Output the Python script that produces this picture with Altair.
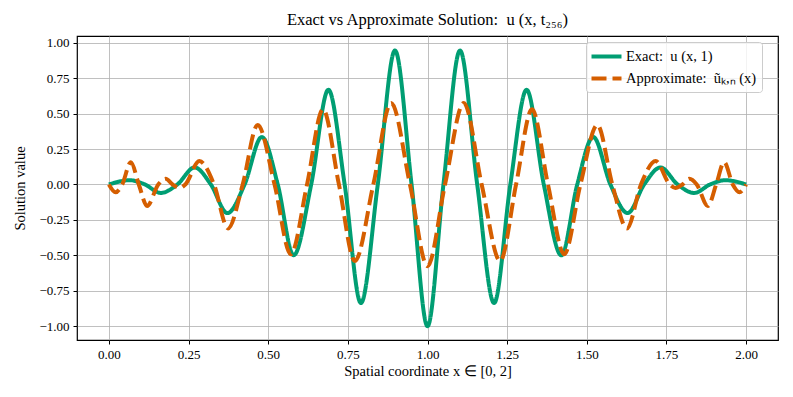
import altair as alt
import pandas as pd

# ---- data ----
exact_x = [0.000, 0.066, 0.113, 0.163, 0.215, 0.269, 0.320, 0.372, 0.426, 0.480,
           0.530, 0.580, 0.635, 0.689, 0.740, 0.791, 0.844, 0.898, 0.950, 1.000,
           1.050, 1.102, 1.156, 1.209, 1.260, 1.311, 1.365, 1.420, 1.470, 1.520,
           1.574, 1.628, 1.680, 1.731, 1.785, 1.837, 1.887, 1.934, 2.000]
exact_y = [0.000, 0.030, 0.000, -0.060, 0.000, 0.120, 0.000, -0.202, 0.000, 0.335,
           0.000, -0.500, 0.000, 0.668, 0.000, -0.837, 0.000, 0.945, 0.000, -1.000,
           0.000, 0.945, 0.000, -0.837, 0.000, 0.668, 0.000, -0.500, 0.000, 0.335,
           0.000, -0.202, 0.000, 0.120, 0.000, -0.060, 0.000, 0.030, 0.000]

approx_x = [0.000, 0.021, 0.042, 0.069, 0.094, 0.120, 0.155, 0.178, 0.200, 0.222,
            0.240, 0.284, 0.330, 0.374, 0.420, 0.467, 0.520, 0.571, 0.622, 0.672,
            0.722, 0.772, 0.830, 0.886, 0.945, 1.000, 1.055, 1.114, 1.170, 1.228,
            1.278, 1.328, 1.378, 1.429, 1.480, 1.533, 1.580, 1.626, 1.670, 1.716,
            1.760, 1.778, 1.800, 1.822, 1.845, 1.880, 1.906, 1.931, 1.958, 1.979,
            2.000]
approx_y = [0.000, -0.055, 0.000, 0.157, 0.000, -0.152, 0.000, 0.040, 0.000, -0.025,
            0.000, 0.165, 0.000, -0.310, 0.000, 0.420, 0.000, -0.492, 0.000, 0.530,
            0.000, -0.540, 0.000, 0.575, 0.000, -0.577, 0.000, 0.575, 0.000, -0.540,
            0.000, 0.530, 0.000, -0.492, 0.000, 0.420, 0.000, -0.310, 0.000, 0.165,
            0.000, -0.025, 0.000, 0.040, 0.000, -0.152, 0.000, 0.157, 0.000, -0.055,
            0.000]

series_names = ["Exact:\u2002u (x, 1)", "Approximate:\u2002ũₖ,ₙ (x)"]
series_colors = ["#009E73", "#D55E00"]
x_ticks = [0.0, 0.25, 0.5, 0.75, 1.0, 1.25, 1.5, 1.75, 2.0]
y_ticks = [-1.0, -0.75, -0.5, -0.25, 0.0, 0.25, 0.5, 0.75, 1.0]

df_exact = pd.DataFrame({"x": exact_x, "y": exact_y, "series": series_names[0]})
df_approx = pd.DataFrame({"x": approx_x, "y": approx_y, "series": series_names[1]})

FONT = "Liberation Serif"

xenc = alt.X("x:Q",
             scale=alt.Scale(domain=[-0.1, 2.1], nice=False, zero=False),
             axis=alt.Axis(values=x_ticks, format=".2f",
                           title="Spatial coordinate x ∈ [0, 2]"))
yenc = alt.Y("y:Q",
             scale=alt.Scale(domain=[-1.0975, 1.0475], nice=False, zero=False),
             axis=alt.Axis(values=y_ticks, format=".2f", title="Solution value"))
color = alt.Color("series:N",
                  scale=alt.Scale(domain=series_names, range=series_colors),
                  sort=series_names,
                  legend=alt.Legend(title=None, orient="none", legendX=509, legendY=6,
                                    symbolType="M-1.2,0L2.8,0", symbolSize=225,
                                    symbolStrokeWidth=4,
                                    labelFont=FONT, labelFontSize=14.5,
                                    labelColor="black", labelOffset=16,
                                    fillColor="rgba(255,255,255,0.8)",
                                    strokeColor="#cccccc", cornerRadius=3,
                                    padding=5, rowPadding=4))
dash = alt.StrokeDash("series:N",
                      scale=alt.Scale(domain=series_names, range=[[1, 0], [15, 6]]),
                      sort=series_names, legend=None)

line_exact = alt.Chart(df_exact).mark_line(strokeWidth=4, interpolate="monotone").encode(
    x=xenc, y=yenc, color=color, strokeDash=dash)
line_approx = alt.Chart(df_approx).mark_line(strokeWidth=4, interpolate="monotone").encode(
    x=xenc, y=yenc, color=color, strokeDash=dash)

chart = alt.layer(line_exact, line_approx).properties(
    width=701, height=304,
    title=alt.Title("Exact vs Approximate Solution:\u2002u (x, t₂₅₆)",
                    font=FONT, fontSize=16.5, fontWeight="normal", color="black",
                    offset=8),
    autosize=alt.AutoSizeParams(type="none"),
    padding={"left": 69, "top": 28, "right": 7, "bottom": 49},
).configure_view(stroke="black", strokeWidth=1.2).configure_axis(
    domain=False, tickColor="black", tickSize=4, tickWidth=1,
    labelFont=FONT, labelFontSize=13, labelColor="black", labelPadding=4,
    titleFont=FONT, titleFontSize=14.5, titleFontWeight="normal", titleColor="black",
    gridColor="#b0b0b0", gridWidth=0.8,
).configure_axisX(titlePadding=3).configure_axisY(titlePadding=11)

chart.save("out.html", embed_options={"renderer": "svg", "actions": False})
